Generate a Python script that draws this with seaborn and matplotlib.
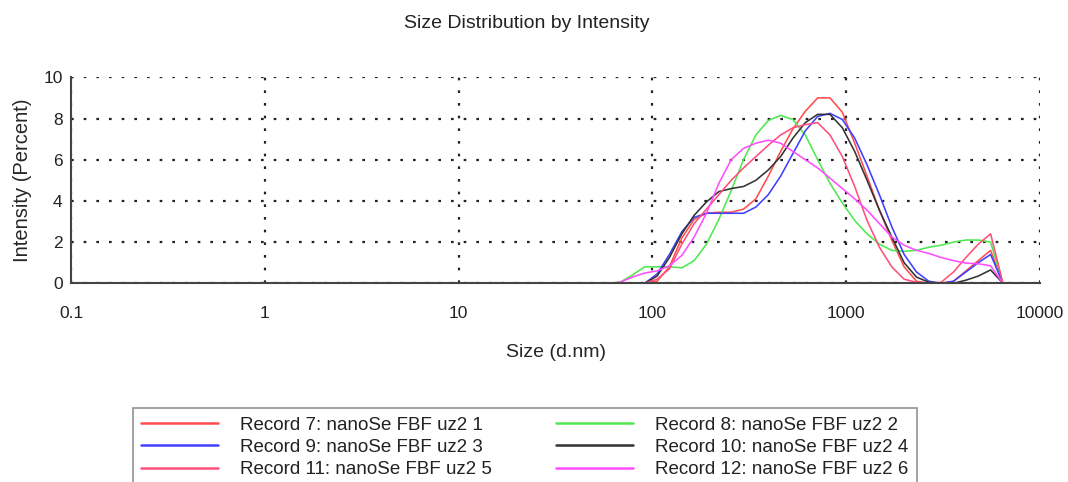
import numpy as np
import pandas as pd
import matplotlib
matplotlib.use("Agg")
import matplotlib.pyplot as plt
import matplotlib.ticker as mticker
import seaborn as sns

# size bins (d.nm)
sizes = [0.4, 50.75, 58.77, 68.06, 78.82, 91.28, 105.7, 122.4, 141.8, 164.2,
         190.1, 220.2, 255.0, 295.3, 342.0, 396.1, 458.7, 531.2, 615.1, 712.4,
         825.0, 955.4, 1106, 1281, 1484, 1718, 1990, 2305, 2669, 3091,
         3580, 4145, 4801, 5560, 6439, 7456, 8635, 10000]

rec7 = [0, 0, 0, 0, 0, 0, 0.1, 0.8, 2.2, 3.1, 3.4, 3.45, 3.45, 3.6, 4.1, 5.2, 6.4, 7.5, 8.35, 9.0,
        9.0, 8.3, 6.8, 5.2, 3.55, 2.1, 0.8, 0.1, 0, 0, 0.1, 0.6, 1.1, 1.6, 0, 0, 0, 0]
rec8 = [0, 0, 0, 0.05, 0.4, 0.8, 0.8, 0.8, 0.75, 1.1, 1.9, 3.1, 4.5, 6.0, 7.2, 7.9, 8.15, 7.95, 7.2, 6.0,
        4.85, 3.9, 3.05, 2.4, 1.9, 1.6, 1.55, 1.6, 1.75, 1.85, 2.0, 2.1, 2.1, 2.0, 0, 0, 0, 0]
rec9 = [0, 0, 0, 0, 0, 0, 0.45, 1.4, 2.5, 3.2, 3.4, 3.4, 3.4, 3.4, 3.7, 4.3, 5.2, 6.3, 7.4, 8.1,
        8.25, 7.95, 7.05, 5.75, 4.3, 2.75, 1.4, 0.55, 0.1, 0, 0.1, 0.55, 1.0, 1.4, 0, 0, 0, 0]
rec10 = [0, 0, 0, 0, 0, 0, 0.35, 1.25, 2.4, 3.3, 3.95, 4.45, 4.6, 4.7, 5.0, 5.5, 6.15, 7.05, 7.8, 8.2,
         8.2, 7.55, 6.4, 5.0, 3.55, 2.25, 1.0, 0.3, 0.05, 0, 0, 0.15, 0.35, 0.65, 0, 0, 0, 0]
rec11 = [0, 0, 0, 0, 0, 0, 0.2, 0.7, 1.9, 2.9, 3.6, 4.3, 5.0, 5.6, 6.15, 6.7, 7.2, 7.55, 7.7, 7.8,
         7.2, 6.15, 4.7, 3.05, 1.75, 0.8, 0.2, 0.05, 0, 0.05, 0.55, 1.25, 1.9, 2.4, 0, 0, 0, 0]
rec12 = [0, 0, 0, 0.05, 0.3, 0.5, 0.6, 0.85, 1.35, 2.25, 3.4, 4.85, 6.0, 6.55, 6.8, 6.95, 6.8, 6.4, 6.0, 5.6,
         5.1, 4.6, 4.1, 3.55, 2.9, 2.25, 1.85, 1.6, 1.45, 1.25, 1.1, 0.98, 0.95, 0.85, 0, 0, 0, 0]

names = ["Record 7: nanoSe FBF uz2 1", "Record 8: nanoSe FBF uz2 2",
         "Record 9: nanoSe FBF uz2 3", "Record 10: nanoSe FBF uz2 4",
         "Record 11: nanoSe FBF uz2 5", "Record 12: nanoSe FBF uz2 6"]
series = [rec7, rec8, rec9, rec10, rec11, rec12]
colors = ["#ff4d4d", "#4ee84e", "#3f3fff", "#333333", "#ff4f7b", "#ff4dff"]

rows = []
for name, vals in zip(names, series):
    for s, v in zip(sizes, vals):
        rows.append({"record": name, "size": s, "intensity": v})
df = pd.DataFrame(rows)

sns.set_style("white")
plt.rcParams["font.family"] = ["Liberation Sans", "DejaVu Sans"]
plt.rcParams["text.color"] = "#222222"

fig = plt.figure(figsize=(10.68, 4.82), dpi=100)
ax = fig.add_axes([71 / 1068, 1 - 283.3 / 482, (1040 - 71) / 1068, (283.3 - 77.3) / 482])

sns.lineplot(data=df, x="size", y="intensity", hue="record", hue_order=names,
             palette=dict(zip(names, colors)), estimator=None, sort=False,
             linewidth=1.15, ax=ax, legend=False)

ax.set_xscale("log")
ax.set_xlim(0.1, 10000)
ax.set_ylim(0, 10)
ax.xaxis.set_major_locator(mticker.FixedLocator([0.1, 1, 10, 100, 1000, 10000]))
ax.xaxis.set_major_formatter(mticker.FixedFormatter(["0.1", "1", "10", "100", "1000", "10000"]))
ax.xaxis.set_minor_locator(mticker.LogLocator(base=10, subs=np.arange(2, 10), numticks=20))
ax.xaxis.set_minor_formatter(mticker.NullFormatter())
ax.set_yticks([0, 2, 4, 6, 8, 10])
ax.yaxis.set_minor_locator(mticker.FixedLocator([1, 3, 5, 7, 9]))

ax.grid(True, which="major", color="#222222", linestyle=(0, (1.2, 4.5)), linewidth=1.6)
for side in ["top", "right"]:
    ax.spines[side].set_visible(False)
for side in ["left", "bottom"]:
    ax.spines[side].set_color("#444444")
    ax.spines[side].set_linewidth(1.5)

ax.tick_params(axis="both", which="major", direction="inout", length=8, width=1.3,
               color="#444444", labelsize=12.5, labelcolor="#222222")
ax.tick_params(axis="both", which="minor", direction="inout", length=6, width=1.1, color="#444444")
ax.tick_params(axis="x", which="major", pad=12)
ax.tick_params(axis="y", which="major", pad=2)

ax.set_xlabel("Size (d.nm)", fontsize=14, labelpad=17)
ax.set_ylabel("Intensity (Percent)", fontsize=14.5, labelpad=8)
fig.text(527 / 1068, 1 - 23 / 482, "Size Distribution by Intensity", fontsize=14,
         ha="center", va="center")

handles = [plt.Line2D([], [], color=c, linewidth=1.8) for c in colors]
order = [0, 2, 4, 1, 3, 5]
leg = fig.legend([handles[i] for i in order], [names[i] for i in order],
                 loc="upper left", bbox_to_anchor=(133 / 1068, 1 - 408 / 482),
                 ncol=2, fontsize=13.5, frameon=True, fancybox=False,
                 handlelength=4.1, handletextpad=1.15, columnspacing=3.45,
                 labelspacing=0.28, borderpad=0.45, borderaxespad=0)
leg.get_frame().set_edgecolor("#777777")
leg.get_frame().set_linewidth(1.2)

fig.savefig("out.png", dpi=100)
